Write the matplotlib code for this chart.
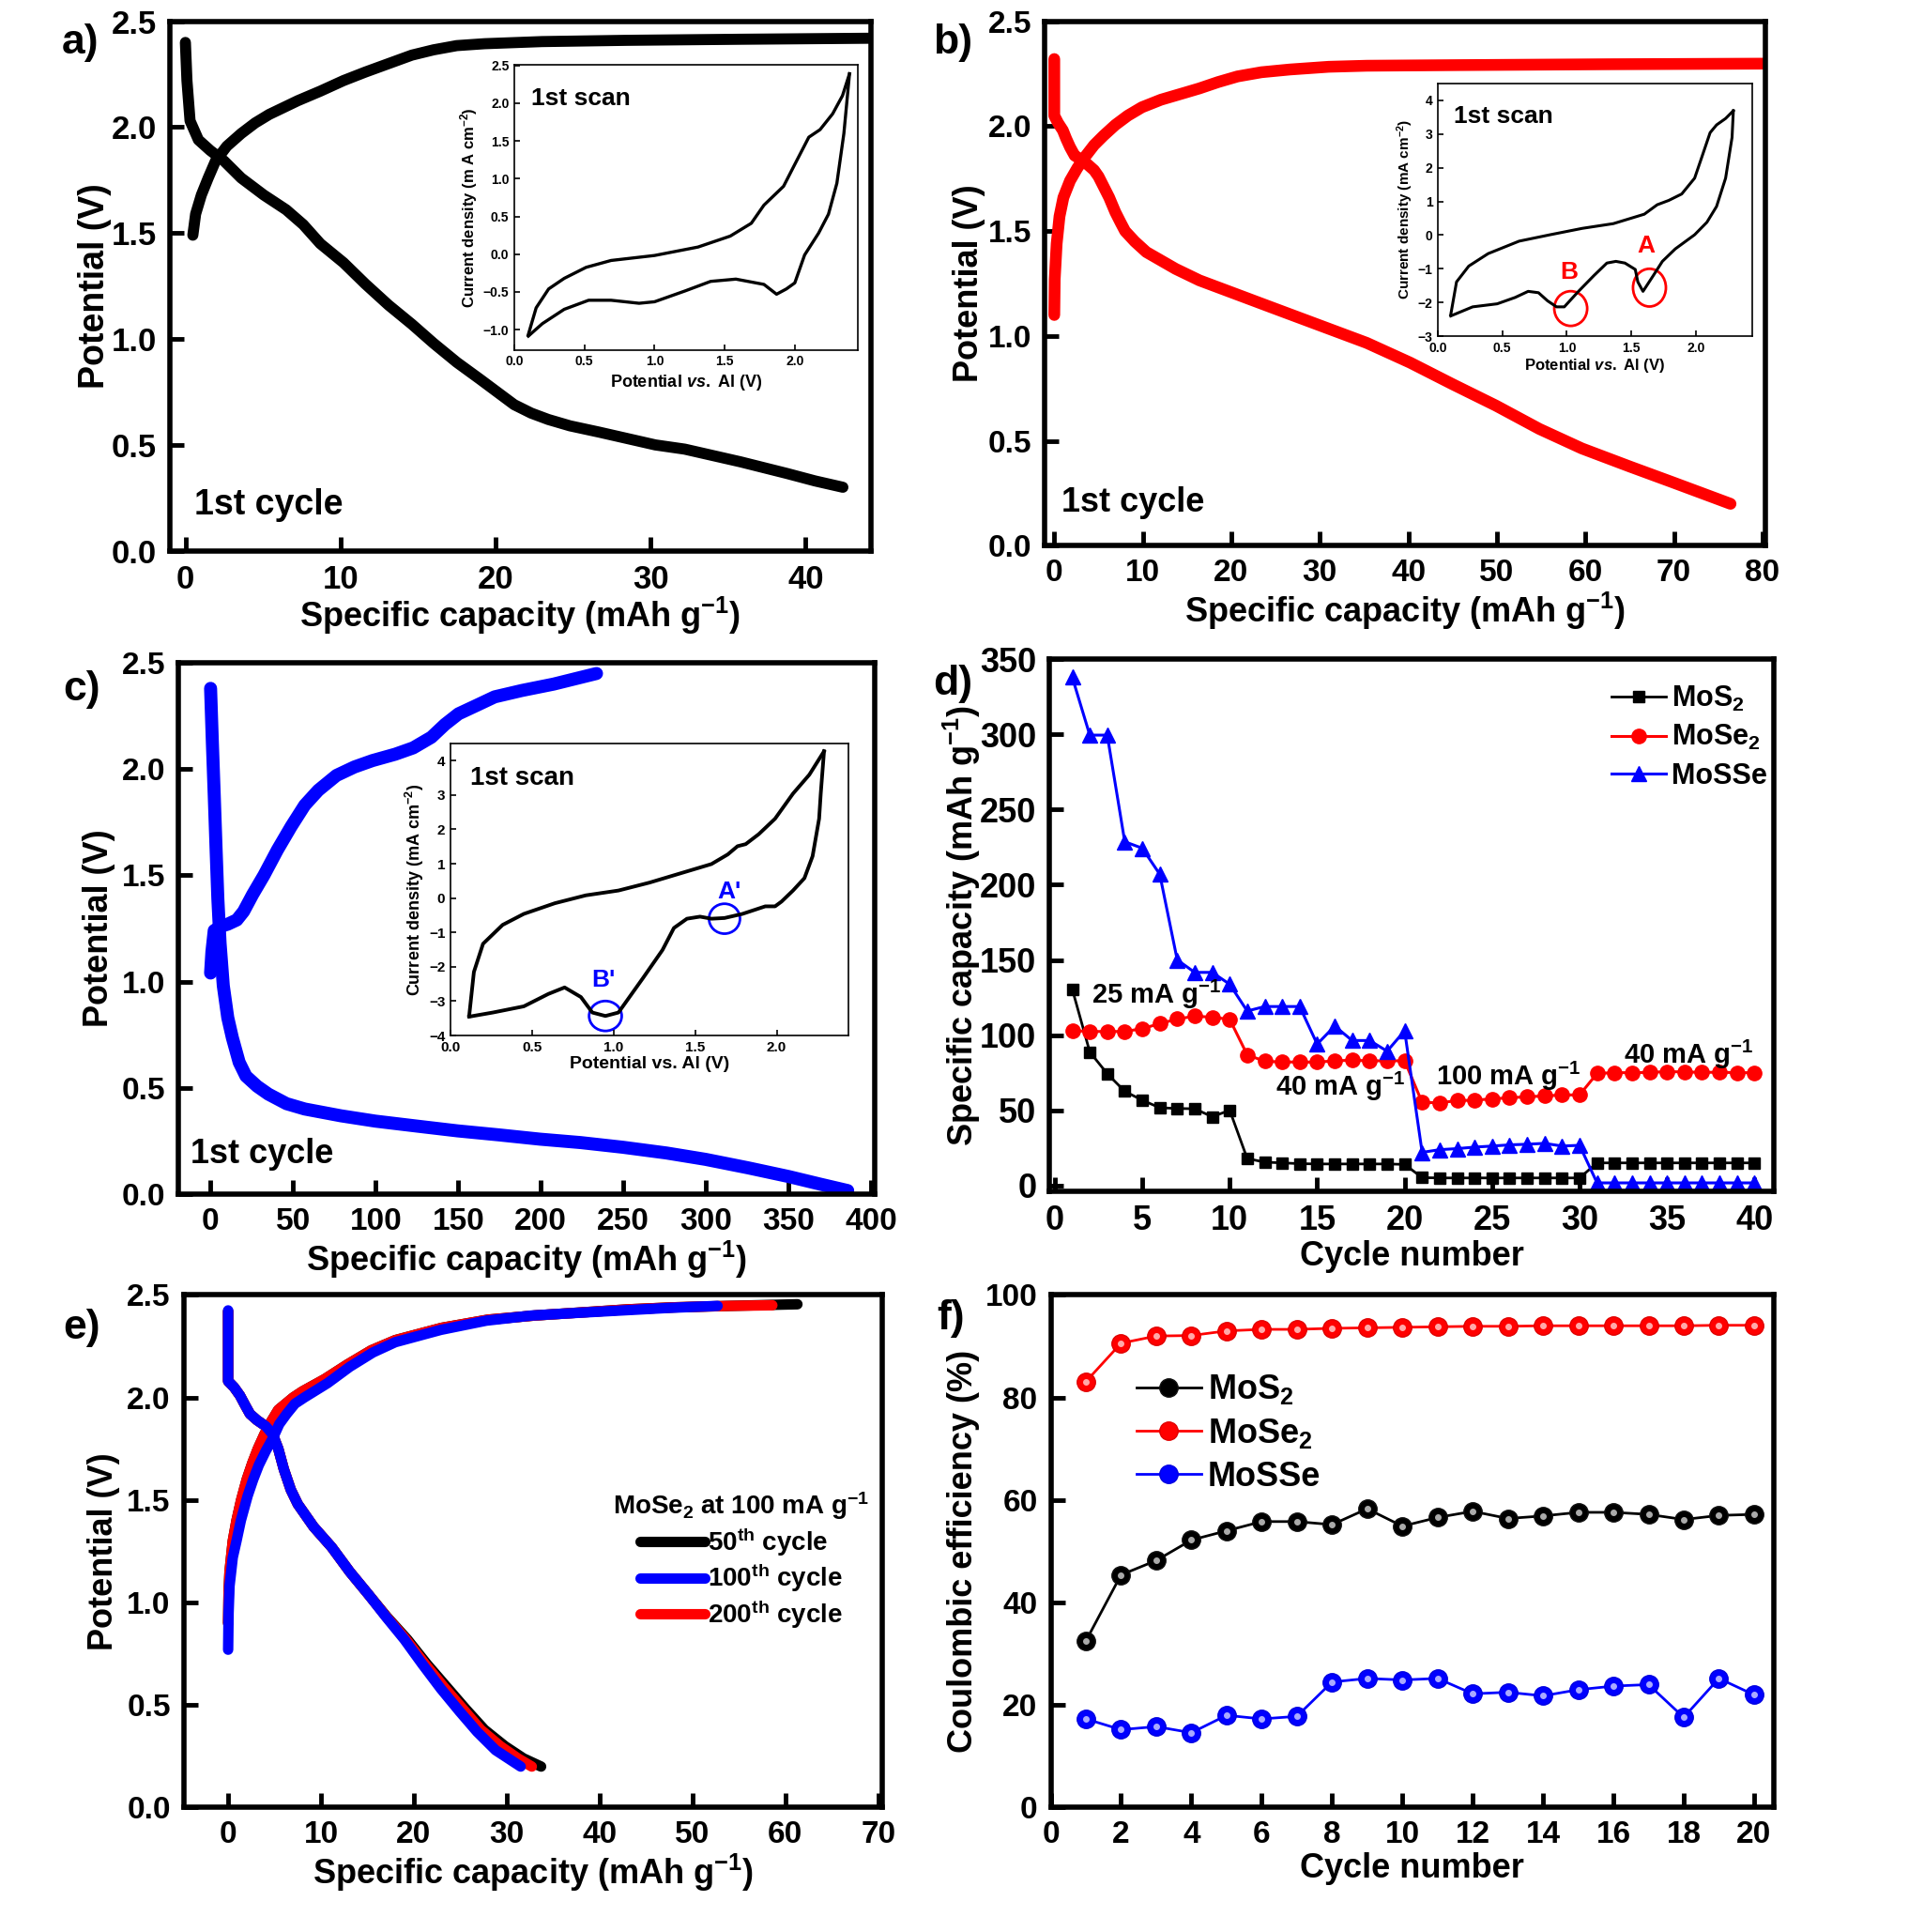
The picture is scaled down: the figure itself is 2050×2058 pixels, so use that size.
import matplotlib
matplotlib.use('Agg')
import matplotlib.pyplot as plt
from matplotlib import font_manager
from matplotlib.patches import Ellipse

# fonts: bold Arial-like sans
names = {f.name for f in font_manager.fontManager.ttflist}
REG = 'Liberation Sans' if 'Liberation Sans' in names else 'DejaVu Sans'

plt.rcParams['font.family'] = REG
plt.rcParams['font.weight'] = 'bold'
plt.rcParams['axes.labelweight'] = 'bold'
plt.rcParams['mathtext.fontset'] = 'custom'
plt.rcParams['mathtext.default'] = 'bf'
plt.rcParams['mathtext.bf'] = REG + ':bold'
plt.rcParams['mathtext.rm'] = REG + ':bold'
plt.rcParams['mathtext.it'] = REG + ':italic:bold'

# ---------------- data ----------------
# a) MoS2 1st cycle
a_dis_x = [0, 0.1, 0.3, 0.84, 1.6, 2.5, 3.6, 5.05, 6.5, 7.6, 8.7, 10.2, 11.6, 13.1, 14.6, 16, 17.5,
           19, 20.1, 21.2, 22.3, 23.4, 24.8, 26.7, 28.5, 30.3, 32.2, 34, 35.8, 38.8, 40.6, 42.4]
a_dis_y = [2.40, 2.22, 2.03, 1.94, 1.89, 1.84, 1.76, 1.68, 1.61, 1.54, 1.45, 1.36, 1.26, 1.16, 1.07, 0.98, 0.89,
           0.81, 0.75, 0.69, 0.65, 0.62, 0.59, 0.56, 0.53, 0.50, 0.48, 0.45, 0.42, 0.365, 0.33, 0.30]
a_chg_x = [0.48, 0.66, 1.03, 1.47, 1.94, 2.67, 3.6, 4.5, 5.4, 7.25, 8.7, 10.2, 11.6, 13.1, 14.6, 16, 17.5,
           19.3, 23, 28.5, 35.8, 44.5]
a_chg_y = [1.49, 1.59, 1.68, 1.76, 1.84, 1.91, 1.97, 2.02, 2.06, 2.125, 2.17, 2.22, 2.26, 2.30, 2.34, 2.365, 2.385,
           2.394, 2.404, 2.41, 2.415, 2.42]
a_cv_up_x = [0.1, 0.156, 0.245, 0.356, 0.512, 0.69, 1.0, 1.31, 1.54, 1.69, 1.78, 1.92, 2.0, 2.1, 2.18, 2.27, 2.34, 2.39]
a_cv_up_y = [-1.065, -0.71, -0.46, -0.32, -0.174, -0.083, -0.017, 0.095, 0.24, 0.41, 0.65, 0.9, 1.19, 1.55, 1.65, 1.86, 2.1, 2.39]
a_cv_dn_x = [2.39, 2.35, 2.3, 2.24, 2.17, 2.07, 2.0, 1.94, 1.87, 1.78, 1.58, 1.4, 1.22, 1.0, 0.89, 0.69, 0.53, 0.356, 0.2, 0.1]
a_cv_dn_y = [2.39, 1.6, 0.94, 0.53, 0.28, -0.01, -0.38, -0.46, -0.53, -0.40, -0.33, -0.36, -0.485, -0.63, -0.65, -0.61, -0.61, -0.73, -0.92, -1.085]

# b) MoSe2 1st cycle
b_dis_x = [0, 0, 0.43, 0.97, 1.35, 1.78, 2.3, 2.86, 3.7, 4.5, 5.0, 5.6, 6.2, 6.9, 7.5, 8.0, 9.1, 10.4, 12.05,
           13.7, 16.4, 20.2, 24.5, 29.9, 35.3, 40.2, 45, 49.9, 54.8, 59.6, 65, 69.9, 76.4]
b_dis_y = [2.32, 2.05, 2.015, 1.98, 1.94, 1.90, 1.86, 1.845, 1.82, 1.79, 1.76, 1.71, 1.66, 1.59, 1.54, 1.50, 1.45,
           1.40, 1.36, 1.32, 1.265, 1.205, 1.137, 1.052, 0.967, 0.873, 0.77, 0.668, 0.557, 0.464, 0.378, 0.302, 0.2]
b_chg_x = [0, 0.05, 0.27, 0.59, 1.03, 1.78, 2.6, 3.4, 4.5, 5.57, 6.9, 8.3, 9.9, 12.05, 14.8, 16.4, 18.5,
           20.7, 23.4, 26.6, 31, 35.3, 46.1, 62.3, 80.5]
b_chg_y = [1.10, 1.27, 1.44, 1.57, 1.66, 1.74, 1.80, 1.85, 1.91, 1.955, 2.006, 2.05, 2.09, 2.126, 2.16, 2.18, 2.21,
           2.237, 2.257, 2.27, 2.283, 2.288, 2.291, 2.295, 2.298]
b_cv_up_x = [0.1, 0.145, 0.24, 0.39, 0.63, 0.87, 1.12, 1.36, 1.6, 1.7, 1.79, 1.89, 1.99, 2.04, 2.11, 2.16, 2.23, 2.29]
b_cv_up_y = [-2.37, -1.39, -0.92, -0.55, -0.18, 0.01, 0.2, 0.34, 0.62, 0.9, 1.03, 1.22, 1.69, 2.25, 3.04, 3.27, 3.46, 3.69]
b_cv_dn_x = [2.29, 2.28, 2.23, 2.16, 2.085, 1.99, 1.84, 1.74, 1.67, 1.59, 1.55, 1.53, 1.45, 1.38, 1.31, 1.21, 1.09, 0.98, 0.92, 0.85, 0.78, 0.70, 0.6, 0.46, 0.27, 0.1]
b_cv_dn_y = [3.69, 2.9, 1.69, 0.85, 0.38, 0.01, -0.41, -0.78, -1.2, -1.67, -1.39, -1.02, -0.83, -0.78, -0.83, -1.2, -1.67, -2.13, -2.13, -1.95, -1.71, -1.67, -1.85, -2.04, -2.13, -2.4]

# c) MoSSe 1st cycle
c_dis_x = [0, 1.1, 2.2, 3.3, 4.4, 5.75, 7.7, 10.4, 13.2, 17.3, 21.4, 28.2, 35, 46, 57, 78.9, 99.7, 125.5,
           149.6, 174.8, 199.5, 224, 249.6, 276, 299.7, 325.5, 350.1, 369.3, 385.8]
c_dis_y = [2.38, 2.12, 1.88, 1.63, 1.39, 1.18, 0.98, 0.83, 0.735, 0.62, 0.555, 0.507, 0.47, 0.425, 0.40, 0.368, 0.343, 0.319,
           0.297, 0.278, 0.258, 0.242, 0.22, 0.193, 0.163, 0.123, 0.082, 0.046, 0.016]
c_chg_x = [0, 0.8, 2.2, 6.3, 10.4, 15.9, 20, 25.5, 32.3, 40.5, 48.8, 57, 65.2, 76.2, 87.1, 98, 111.8, 122.7,
           133.7, 141.9, 150.1, 161.1, 172, 188.5, 207.7, 233.7]
c_chg_y = [1.04, 1.14, 1.24, 1.26, 1.27, 1.29, 1.33, 1.41, 1.50, 1.62, 1.73, 1.83, 1.90, 1.97, 2.01, 2.04, 2.07, 2.10,
           2.15, 2.21, 2.26, 2.30, 2.34, 2.37, 2.40, 2.45]
c_cv_up_x = [0.115, 0.144, 0.2, 0.32, 0.45, 0.64, 0.83, 1.03, 1.22, 1.41, 1.6, 1.7, 1.76, 1.81, 1.89, 1.99, 2.1, 2.2, 2.29]
c_cv_up_y = [-3.43, -2.15, -1.33, -0.78, -0.46, -0.15, 0.08, 0.22, 0.45, 0.72, 0.99, 1.27, 1.51, 1.57, 1.86, 2.31, 3.04, 3.59, 4.27]
c_cv_dn_x = [2.29, 2.27, 2.26, 2.22, 2.17, 2.1, 2.03, 1.99, 1.93, 1.79, 1.68, 1.6, 1.53, 1.45, 1.37, 1.3, 1.18, 1.03, 0.95, 0.87, 0.8, 0.7, 0.6, 0.45, 0.26, 0.115]
c_cv_dn_y = [4.27, 3.04, 2.31, 1.22, 0.58, 0.22, -0.1, -0.24, -0.24, -0.46, -0.58, -0.6, -0.54, -0.6, -0.87, -1.51, -2.33, -3.33, -3.43, -3.33, -2.88, -2.6, -2.79, -3.15, -3.33, -3.45]

# d) rate capability
cycles_d = list(range(1, 41))
d_mos2 = [130.5, 88.8, 74.3, 62.6, 56.7, 51.7, 51.2, 51, 45.7, 50,
          17.9, 15.5, 15, 14.5, 14.3, 14.3, 14.3, 14.3, 14.3, 14,
          5.2, 5, 5, 5, 5, 5, 5, 5, 5, 5,
          15, 15, 15, 15, 15, 15, 15, 15, 15, 15]
d_mose2 = [103, 102.4, 102.4, 102.4, 104.3, 107.6, 110.7, 112.6, 111.9, 110.5,
           86.9, 82.6, 82.1, 82.1, 82, 82.9, 83.3, 82.9, 82.9, 82.9,
           55.2, 55, 56.4, 56.7, 57.6, 58.3, 59, 59.5, 60.2, 60.2,
           74.5, 75, 75, 75.2, 75.7, 75.5, 75.2, 75.3, 75, 75]
d_mosse = [338, 299.5, 299.5, 228.6, 224.3, 207, 150, 141.7, 141.7, 133.8,
           116, 119, 119, 119, 94, 106, 96.4, 96.4, 89.3, 102.9,
           22, 23.8, 24.5, 25.5, 26.2, 27, 27.4, 28, 26.2, 26.7,
           1.7, 1.7, 1.7, 1.7, 1.7, 1.7, 1.7, 1.7, 1.7, 1.7]

# e) MoSe2 at 100 mA/g, cycles 50/100/200
e100_dis_x = [0, 0, 0.64, 1.27, 1.86, 2.35, 3.1, 4.06, 4.8, 5.4, 6.0, 6.75, 7.5, 9.2, 11.15, 13.1,
              15.1, 17, 18.98, 20.9, 22.9, 24.9, 26.8, 28.8, 31.5]
e100_dis_y = [2.425, 2.08, 2.05, 2.01, 1.96, 1.92, 1.89, 1.86, 1.82, 1.75, 1.65, 1.55, 1.48, 1.37, 1.27, 1.15,
              1.04, 0.93, 0.82, 0.70, 0.58, 0.47, 0.37, 0.28, 0.2]
e100_chg_x = [0, 0.05, 0.15, 0.5, 0.9, 1.37, 2.1, 2.7, 3.3, 4.06, 4.8, 5.5, 6.3, 7.2, 8.2, 10.7, 13.1,
              15.6, 18, 20.45, 22.9, 27.8, 32.7, 37.6, 42.5, 47.4, 52.7]
e100_chg_y = [0.77, 0.95, 1.08, 1.22, 1.30, 1.40, 1.52, 1.60, 1.67, 1.74, 1.80, 1.87, 1.92, 1.97, 2.0, 2.07, 2.15,
              2.22, 2.27, 2.30, 2.33, 2.375, 2.40, 2.413, 2.425, 2.437, 2.447]
e50_dis_x = [0, 0, 0.64, 1.27, 1.86, 2.35, 3.1, 4.06, 4.8, 5.4, 6.0, 6.75, 7.5, 9.2, 11.15, 13.1,
             15.1, 17.1, 19.3, 21.4, 23.5, 25.6, 27.6, 29.8, 31.8, 33.7]
e50_dis_y = [2.42, 2.08, 2.05, 2.01, 1.96, 1.92, 1.89, 1.86, 1.82, 1.75, 1.65, 1.55, 1.48, 1.37, 1.27, 1.15,
             1.04, 0.93, 0.82, 0.70, 0.59, 0.48, 0.38, 0.30, 0.24, 0.2]
e50_chg_x = [0, 0.05, 0.15, 0.5, 0.9, 1.4, 2.0, 2.6, 3.2, 3.9, 4.6, 5.4, 6.2, 7.0, 8.0, 10.4, 12.8,
             15.4, 18, 20.5, 23, 28, 33, 38, 43, 48, 54, 61.3]
e50_chg_y = [0.9, 1.05, 1.15, 1.30, 1.40, 1.50, 1.60, 1.68, 1.75, 1.82, 1.88, 1.94, 1.97, 2.0, 2.03, 2.09, 2.16,
             2.23, 2.28, 2.31, 2.34, 2.38, 2.40, 2.415, 2.43, 2.44, 2.447, 2.455]
e200_dis_x = [0, 0, 0.64, 1.27, 1.86, 2.35, 3.1, 4.06, 4.8, 5.4, 6.0, 6.75, 7.5, 9.2, 11.15, 13.1,
              15.1, 17.05, 19.15, 21.2, 23.2, 25.3, 27.2, 29.3, 31.2, 32.7]
e200_dis_y = [2.42, 2.08, 2.05, 2.01, 1.96, 1.92, 1.89, 1.86, 1.82, 1.75, 1.65, 1.55, 1.48, 1.37, 1.27, 1.15,
              1.04, 0.93, 0.82, 0.70, 0.59, 0.48, 0.38, 0.30, 0.24, 0.2]
e200_chg_x = [0, 0.05, 0.15, 0.5, 0.9, 1.4, 2.0, 2.6, 3.2, 3.9, 4.6, 5.4, 6.2, 7.0, 8.0, 10.4, 12.8,
              15.4, 18, 20.5, 23, 28, 33, 38, 43, 48, 54, 58.6]
e200_chg_y = [0.9, 1.05, 1.15, 1.30, 1.40, 1.50, 1.60, 1.68, 1.75, 1.82, 1.88, 1.94, 1.97, 2.0, 2.03, 2.09, 2.16,
              2.23, 2.28, 2.31, 2.34, 2.38, 2.40, 2.415, 2.43, 2.44, 2.447, 2.45]

# f) coulombic efficiency
cycles_f = list(range(1, 21))
f_mos2 = [32.5, 45.4, 48.2, 52.2, 54, 55.8, 55.8, 55.2, 58.3, 54.9,
          56.6, 57.8, 56.4, 56.9, 57.6, 57.6, 57.2, 56.2, 57, 57.2]
f_mose2 = [83.1, 90.6, 92, 92.1, 93, 93.3, 93.3, 93.5, 93.6, 93.7,
           93.8, 93.9, 93.9, 94, 94, 94, 94, 94, 94.1, 94.1]
f_mosse = [17.3, 15.2, 15.8, 14.6, 18, 17.3, 17.8, 24.5, 25.2, 24.9,
           25.2, 22.2, 22.5, 21.8, 23, 23.7, 24, 17.6, 25.2, 22]

CAP = 'Specific capacity (mAh g$^{-1}$)'
V_TICKS = [0, 0.5, 1.0, 1.5, 2.0, 2.5]
V_LABELS = ['0.0', '0.5', '1.0', '1.5', '2.0', '2.5']
THICK = dict(solid_capstyle='round', solid_joinstyle='round')

fig = plt.figure(figsize=(20.5, 20.58), dpi=100)


def style_main(ax, size):
    for s in ax.spines.values():
        s.set_linewidth(4)
    ax.tick_params(direction='in', length=11, width=3.5, top=False, right=False, pad=10, labelsize=size)


def style_inset(ax, size):
    for s in ax.spines.values():
        s.set_linewidth(1.2)
    ax.tick_params(direction='in', length=4, width=1.2, top=False, right=False, pad=4, labelsize=size)


# ---------- a ----------
ax = fig.add_axes([0.0883, 0.7149, 0.3643, 0.2741])
ax.plot(a_dis_x, a_dis_y, color='black', lw=8.5, **THICK)
ax.plot(a_chg_x, a_chg_y, color='black', lw=8.5, **THICK)
ax.set_xlim(-1, 44.2)
ax.set_ylim(0, 2.5)
ax.set_xticks([0, 10, 20, 30, 40])
ax.set_yticks(V_TICKS)
ax.set_yticklabels(V_LABELS)
style_main(ax, 25)
ax.set_xlabel(CAP, fontsize=26, labelpad=0)
ax.set_ylabel('Potential (V)', fontsize=27, labelpad=0)
ax.text(0.55, 0.215, '1st cycle', fontsize=27, va='center')

ia = fig.add_axes([0.2673, 0.8188, 0.1786, 0.1477])
ia.plot(a_cv_up_x, a_cv_up_y, color='black', lw=2.4)
ia.plot(a_cv_dn_x, a_cv_dn_y, color='black', lw=2.4)
ia.set_xlim(0, 2.45)
ia.set_ylim(-1.27, 2.51)
ia.set_xticks([0, 0.5, 1.0, 1.5, 2.0])
ia.set_yticks([-1.0, -0.5, 0, 0.5, 1.0, 1.5, 2.0, 2.5])
style_inset(ia, 10)
ia.set_xlabel('Potential $\\mathit{vs.}$ Al (V)', fontsize=13, labelpad=3)
ia.set_ylabel('Current density (m A cm$^{-2}$)', fontsize=12, labelpad=3)
ia.text(0.05, 0.88, '1st scan', transform=ia.transAxes, fontsize=19, va='center')

# ---------- b ----------
ax = fig.add_axes([0.5429, 0.7175, 0.3745, 0.2715])
ax.plot(b_dis_x, b_dis_y, color='#ff0000', lw=9, **THICK)
ax.plot(b_chg_x, b_chg_y, color='#ff0000', lw=9, **THICK)
ax.set_xlim(-1.1, 80.3)
ax.set_ylim(0, 2.5)
ax.set_xticks(range(0, 81, 10))
ax.set_yticks(V_TICKS)
ax.set_yticklabels(V_LABELS)
style_main(ax, 24)
ax.set_xlabel(CAP, fontsize=26, labelpad=2)
ax.set_ylabel('Potential (V)', fontsize=26, labelpad=2)
ax.text(0.8, 0.205, '1st cycle', fontsize=26, va='center')

ib = fig.add_axes([0.7473, 0.826, 0.1634, 0.1308])
ib.plot(b_cv_up_x, b_cv_up_y, color='black', lw=2.2)
ib.plot(b_cv_dn_x, b_cv_dn_y, color='black', lw=2.2)
ib.set_xlim(0, 2.436)
ib.set_ylim(-3, 4.5)
ib.set_xticks([0, 0.5, 1.0, 1.5, 2.0])
ib.set_yticks(range(-3, 5))
style_inset(ib, 10)
ib.set_xlabel('Potential $\\mathit{vs.}$ Al (V)', fontsize=12, labelpad=2)
ib.set_ylabel('Current density (mA cm$^{-2}$)', fontsize=11, labelpad=2)
ib.text(0.05, 0.87, '1st scan', transform=ib.transAxes, fontsize=19, va='center')
ib.add_patch(Ellipse((1.03, -2.18), 0.255, 1.03, fill=False, ec='#ff0000', lw=2))
ib.add_patch(Ellipse((1.64, -1.56), 0.255, 1.12, fill=False, ec='#ff0000', lw=2))
ib.text(1.02, -1.1, 'B', color='#ff0000', fontsize=19, ha='center', va='center')
ib.text(1.61, -0.32, 'A', color='#ff0000', fontsize=19, ha='center', va='center')

# ---------- c ----------
ax = fig.add_axes([0.0928, 0.382, 0.3617, 0.2749])
ax.plot(c_dis_x, c_dis_y, color='#0000ff', lw=10, **THICK)
ax.plot(c_chg_x, c_chg_y, color='#0000ff', lw=10, **THICK)
ax.set_xlim(-19.4, 402)
ax.set_ylim(0, 2.5)
ax.set_xticks(range(0, 401, 50))
ax.set_yticks(V_TICKS)
ax.set_yticklabels(V_LABELS)
style_main(ax, 24)
ax.set_xlabel(CAP, fontsize=26, labelpad=2)
ax.set_ylabel('Potential (V)', fontsize=26, labelpad=5)
ax.text(-12, 0.186, '1st cycle', fontsize=26, va='center')

ic = fig.add_axes([0.2341, 0.464, 0.2069, 0.1512])
ic.plot(c_cv_up_x, c_cv_up_y, color='black', lw=2.8)
ic.plot(c_cv_dn_x, c_cv_dn_y, color='black', lw=2.8)
ic.set_xlim(0, 2.44)
ic.set_ylim(-4, 4.5)
ic.set_xticks([0, 0.5, 1.0, 1.5, 2.0])
ic.set_yticks(range(-4, 5))
style_inset(ic, 11)
ic.set_xlabel('Potential vs. Al (V)', fontsize=14, labelpad=2)
ic.set_ylabel('Current density (mA cm$^{-2}$)', fontsize=13, labelpad=2)
ic.text(0.05, 0.88, '1st scan', transform=ic.transAxes, fontsize=20, va='center')
ic.add_patch(Ellipse((0.95, -3.43), 0.2, 0.87, fill=False, ec='#0000ff', lw=2))
ic.add_patch(Ellipse((1.68, -0.6), 0.19, 0.87, fill=False, ec='#0000ff', lw=2))
ic.text(0.94, -2.38, "B'", color='#0000ff', fontsize=19, ha='center', va='center')
ic.text(1.71, 0.17, "A'", color='#0000ff', fontsize=19, ha='center', va='center')

# ---------- d ----------
ax = fig.add_axes([0.5455, 0.3833, 0.3764, 0.2755])
ax.plot(cycles_d, d_mos2, color='black', lw=2, marker='s', ms=9, label='MoS$_2$')
ax.plot(cycles_d, d_mose2, color='#ff0000', lw=2.2, marker='o', ms=11, label='MoSe$_2$')
ax.plot(cycles_d, d_mosse, color='#0000ff', lw=2.2, marker='^', ms=12, label='MoSSe')
ax.set_xlim(-0.3, 41.1)
ax.set_ylim(-4, 350)
ax.set_xticks(range(0, 41, 5))
ax.set_yticks(range(0, 351, 50))
style_main(ax, 26)
ax.set_xlabel('Cycle number', fontsize=26, labelpad=2)
ax.set_ylabel(CAP, fontsize=26, labelpad=-2)
for tx, ty, s in [(2.1, 127, '25 mA g$^{-1}$'), (12.6, 65.5, '40 mA g$^{-1}$'),
                  (21.8, 72.6, '100 mA g$^{-1}$'), (32.5, 87, '40 mA g$^{-1}$')]:
    ax.text(tx, ty, s, fontsize=21, va='center')
ax.legend(loc='upper left', bbox_to_anchor=(0.76, 0.975), frameon=False,
          handlelength=1.9, handletextpad=0.2, labelspacing=0.35, borderaxespad=0,
          prop={'size': 22, 'weight': 'bold'})

# ---------- e ----------
ax = fig.add_axes([0.0954, 0.0644, 0.363, 0.2653])
ax.plot(e50_dis_x, e50_dis_y, color='black', lw=8, **THICK)
ax.plot(e50_chg_x, e50_chg_y, color='black', lw=8, label='50$^{th}$ cycle', **THICK)
ax.plot(e200_dis_x, e200_dis_y, color='#ff0000', lw=8, **THICK)
ax.plot(e200_chg_x, e200_chg_y, color='#ff0000', lw=8, label='200$^{th}$ cycle', **THICK)
ax.plot(e100_dis_x, e100_dis_y, color='#0000ff', lw=8, **THICK)
ax.plot(e100_chg_x, e100_chg_y, color='#0000ff', lw=8, label='100$^{th}$ cycle', **THICK)
ax.set_xlim(-4.8, 70.4)
ax.set_ylim(0, 2.5)
ax.set_xticks(range(0, 71, 10))
ax.set_yticks(V_TICKS)
ax.set_yticklabels(V_LABELS)
style_main(ax, 24)
ax.set_xlabel(CAP, fontsize=26, labelpad=2)
ax.set_ylabel('Potential (V)', fontsize=26, labelpad=5)
h, l = ax.get_legend_handles_labels()
order = [0, 2, 1]
leg = ax.legend([h[i] for i in order], [l[i] for i in order], loc='upper left',
                bbox_to_anchor=(0.6, 0.64), frameon=False, handlelength=2.5,
                handletextpad=0.1, labelspacing=0.15, borderaxespad=0,
                title='MoSe$_2$ at 100 mA g$^{-1}$',
                prop={'size': 20, 'weight': 'bold'})
leg.get_title().set_fontsize(20)
leg.get_title().set_fontweight('bold')

# ---------- f ----------
ax = fig.add_axes([0.5461, 0.0644, 0.3758, 0.2653])
ax.plot(cycles_f, f_mos2, color='black', lw=2, marker='o', ms=14, mec='#111111', label='MoS$_2$')
ax.plot(cycles_f, f_mose2, color='#ff0000', lw=2, marker='o', ms=14, mec='#e00000', label='MoSe$_2$')
ax.plot(cycles_f, f_mosse, color='#0000ff', lw=2, marker='o', ms=14, mec='#0000e0', label='MoSSe')
ax.plot(cycles_f, f_mos2, ls='none', marker='o', ms=4, color='#aaaaaa')
ax.plot(cycles_f, f_mose2, ls='none', marker='o', ms=4, color='#ffaaaa')
ax.plot(cycles_f, f_mosse, ls='none', marker='o', ms=4, color='#aaaaff')
ax.set_xlim(0, 20.56)
ax.set_ylim(0, 100)
ax.set_xticks(range(0, 21, 2))
ax.set_yticks(range(0, 101, 20))
style_main(ax, 24)
ax.set_xlabel('Cycle number', fontsize=26, labelpad=2)
ax.set_ylabel('Coulombic efficiency (%)', fontsize=26, labelpad=4)
ax.legend(loc='upper left', bbox_to_anchor=(0.1, 0.875), frameon=False,
          handlelength=1.9, handletextpad=0.2, labelspacing=0.3, borderaxespad=0,
          prop={'size': 26, 'weight': 'bold'})

# panel letters
for x, y, s in [(0.032, 0.978, 'a)'), (0.485, 0.978, 'b)'), (0.033, 0.643, 'c)'),
                (0.485, 0.646, 'd)'), (0.033, 0.3125, 'e)'), (0.487, 0.3176, 'f)')]:
    fig.text(x, y, s, fontsize=32, fontweight='bold', va='center')

fig.savefig('out.png', dpi=100)
